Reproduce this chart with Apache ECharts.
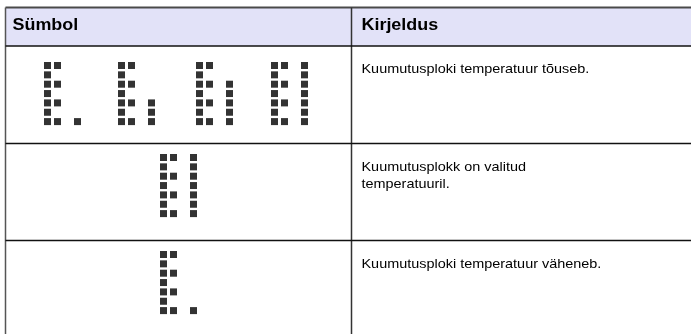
<!DOCTYPE html>
<html>
<head>
<meta charset="utf-8">
<script src="https://cdn.jsdelivr.net/npm/echarts@6/dist/echarts.min.js"></script>
<style>
html,body{margin:0;padding:0;background:#fff;}
#chart{width:691px;height:334px;}
</style>
</head>
<body>
<div id="chart"></div>
<script>
// ---- data ----
const headers = ['Sümbol', 'Kirjeldus'];
const descriptions = [
  'Kuumutusploki temperatuur tõuseb.',
  'Kuumutusplokk on valitud\ntemperatuuril.',
  'Kuumutusploki temperatuur väheneb.'
];
// dot-matrix "E" glyph: rows lit in column 0 and column 1
const eStemRows = [0, 1, 2, 3, 4, 5, 6];
const eArmRows = [0, 2, 4, 6];
// rows lit in the right-hand column (column 3) for each displayed frame
const row1Frames = [[6], [4, 5, 6], [2, 3, 4, 5, 6], [0, 1, 2, 3, 4, 5, 6]];
const row2Frames = [[0, 1, 2, 3, 4, 5, 6]];
const row3Frames = [[6]];
const rightColumn = 3;

// ---- layout ----
const W = 691, H = 334;
const pitchX = 10, pitchY = 9.35, dot = 7;
const frameOrigins = [
  [[44, 62], [118, 62], [196, 62], [271, 62]],
  [[160, 154]],
  [[160, 251]]
];
const allFrames = [row1Frames, row2Frames, row3Frames];

const dots = [];
allFrames.forEach(function (frames, r) {
  frames.forEach(function (rightRows, f) {
    const o = frameOrigins[r][f];
    const cells = [];
    eStemRows.forEach(function (y) { cells.push([0, y]); });
    eArmRows.forEach(function (y) { cells.push([1, y]); });
    rightRows.forEach(function (y) { cells.push([rightColumn, y]); });
    cells.forEach(function (c) {
      dots.push([o[0] + c[0] * pitchX + dot / 2, o[1] + c[1] * pitchY + dot / 2]);
    });
  });
});

const colX = 351.5, leftX = 5.5, topY = 7.5, headBottom = 46, rowLines = [143.5, 240.5];
const textX = 361.5;
const textTops = [60.5, 158.5, 256];
const font = '"Liberation Sans", Arial, sans-serif';

const graphics = [
  { type: 'rect', shape: { x: 5, y: 8, width: W - 5, height: headBottom - 8 }, style: { fill: '#e2e2f8' }, z: 0 },
  { type: 'line', shape: { x1: leftX, y1: topY, x2: W, y2: topY }, style: { stroke: '#4a4a4a', lineWidth: 2 }, z: 5 },
  { type: 'line', shape: { x1: leftX, y1: topY, x2: leftX, y2: H }, style: { stroke: '#555', lineWidth: 1.5 }, z: 5 },
  { type: 'line', shape: { x1: colX, y1: topY, x2: colX, y2: H }, style: { stroke: '#333', lineWidth: 1.5 }, z: 5 },
  { type: 'line', shape: { x1: leftX, y1: headBottom, x2: W, y2: headBottom }, style: { stroke: '#111', lineWidth: 1.5 }, z: 5 }
];
rowLines.forEach(function (y) {
  graphics.push({ type: 'line', shape: { x1: leftX, y1: y, x2: W, y2: y }, style: { stroke: '#111', lineWidth: 1.5 }, z: 5 });
});
graphics.push({ type: 'text', x: 12.5, y: 18, scaleX: 1.12, style: { text: headers[0], font: 'bold 16px ' + font, fill: '#000', verticalAlign: 'top' }, z: 6 });
graphics.push({ type: 'text', x: textX, y: 18, scaleX: 1.12, style: { text: headers[1], font: 'bold 16px ' + font, fill: '#000', verticalAlign: 'top' }, z: 6 });
descriptions.forEach(function (t, i) {
  graphics.push({ type: 'text', x: textX, y: textTops[i], scaleX: 1.11, style: { text: t, font: '13px ' + font, fill: '#000', verticalAlign: 'top', lineHeight: 17 }, z: 6 });
});

const chart = echarts.init(document.getElementById('chart'), null, { renderer: 'canvas' });
chart.setOption({
  animation: false,
  backgroundColor: '#fff',
  grid: { left: 0, right: 0, top: 0, bottom: 0 },
  xAxis: { type: 'value', min: 0, max: W, show: false },
  yAxis: { type: 'value', min: 0, max: H, inverse: true, show: false },
  graphic: graphics,
  series: [{
    type: 'scatter',
    data: dots,
    symbol: 'rect',
    symbolSize: dot,
    itemStyle: { color: '#000' },
    silent: true,
    z: 10
  }]
});
</script>
</body>
</html>
